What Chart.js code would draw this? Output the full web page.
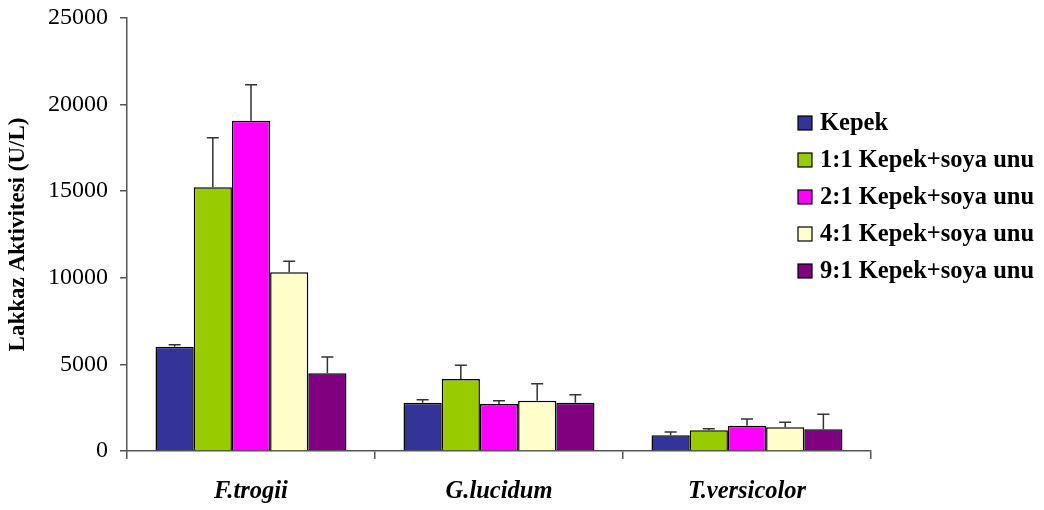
<!DOCTYPE html>
<html>
<head>
<meta charset="utf-8">
<script src="https://cdn.jsdelivr.net/npm/chart.js@4/dist/chart.umd.min.js"></script>
<style>
  body { margin: 0; background: #fff; }
  #caixa { width: 1044px; height: 510px; }
</style>
</head>
<body>
<div id="caixa"><canvas id="grafico" width="1044" height="510"></canvas></div>
<script>
var fonteSerif = "'Liberation Serif', 'Times New Roman', serif";

var categorias = ['F.trogii', 'G.lucidum', 'T.versicolor'];
var yMarcas = [0, 5000, 10000, 15000, 20000, 25000];

var nomes = ['Kepek', '1:1 Kepek+soya unu', '2:1 Kepek+soya unu', '4:1 Kepek+soya unu', '9:1 Kepek+soya unu'];
var cores = ['#333399', '#99cc00', '#ff00ff', '#ffffcc', '#800080'];

// lakkaz aktivitesi (U/L) e desvio (so pra cima)
var kepek = [6020, 2790, 905];
var kepekErro = [110, 175, 190];
var oran11 = [15225, 4155, 1195];
var oran11Erro = [2860, 790, 95];
var oran21 = [19070, 2715, 1460];
var oran21Erro = [2080, 190, 385];
var oran41 = [10320, 2905, 1370];
var oran41Erro = [635, 980, 290];
var oran91 = [4485, 2790, 1255];
var oran91Erro = [940, 460, 865];

var valores = [kepek, oran11, oran21, oran41, oran91];
var erros = [kepekErro, oran11Erro, oran21Erro, oran41Erro, oran91Erro];

var conjuntos = [];
for (var i = 0; i < nomes.length; i++) {
    conjuntos.push({
        label: nomes[i],
        data: valores[i],
        erro: erros[i],
        backgroundColor: cores[i],
        borderColor: '#000',
        borderWidth: 1.5,
        categoryPercentage: 0.77,
        barPercentage: 1
    });
}

// barras de erro
var barrasErro = {
    id: 'barrasErro',
    afterDatasetsDraw: function (chart) {
        var ctx = chart.ctx;
        var eixoY = chart.scales.y;
        ctx.save();
        ctx.strokeStyle = '#333';
        ctx.lineWidth = 1.5;
        chart.data.datasets.forEach(function (ds, i) {
            chart.getDatasetMeta(i).data.forEach(function (barra, j) {
                var topo = eixoY.getPixelForValue(ds.data[j] + ds.erro[j]);
                ctx.beginPath();
                ctx.moveTo(barra.x, barra.y);
                ctx.lineTo(barra.x, topo);
                ctx.moveTo(barra.x - 6, topo);
                ctx.lineTo(barra.x + 6, topo);
                ctx.stroke();
            });
        });
        ctx.restore();
    }
};

// legenda do lado direito
var legenda = {
    id: 'legenda',
    afterDraw: function (chart) {
        var ctx = chart.ctx;
        ctx.save();
        ctx.font = 'bold 24.5px ' + fonteSerif;
        ctx.textBaseline = 'middle';
        chart.data.datasets.forEach(function (ds, i) {
            var y = 123 + i * 37;
            ctx.fillStyle = ds.backgroundColor;
            ctx.fillRect(798, y - 7, 14, 14);
            ctx.strokeStyle = '#000';
            ctx.lineWidth = 1.2;
            ctx.strokeRect(798, y - 7, 14, 14);
            ctx.fillStyle = '#000';
            ctx.fillText(ds.label, 820, y + 1);
        });
        ctx.restore();
    }
};

var grafico = new Chart(document.getElementById('grafico'), {
    type: 'bar',
    data: { labels: categorias, datasets: conjuntos },
    plugins: [barrasErro, legenda],
    options: {
        responsive: false,
        animation: false,
        devicePixelRatio: 1,
        layout: { padding: { top: 18, right: 173, left: 0, bottom: 0 } },
        plugins: {
            legend: { display: false },
            tooltip: { enabled: false }
        },
        scales: {
            x: {
                grid: { display: true, offset: true, drawOnChartArea: false, drawTicks: true, tickLength: 8, color: '#555', lineWidth: 1.5 },
                border: { display: true, color: '#555', width: 1.5 },
                ticks: { color: '#000', padding: 18, font: { family: fonteSerif, size: 24.5, weight: 'bold', style: 'italic' } },
                afterFit: function (scale) { scale.height = 59; }
            },
            y: {
                min: 0,
                max: 25000,
                afterBuildTicks: function (scale) {
                    scale.ticks = yMarcas.map(function (v) { return { value: v }; });
                },
                grid: { display: true, drawOnChartArea: false, drawTicks: true, tickLength: 7, color: '#555', lineWidth: 1.5 },
                border: { display: true, color: '#555', width: 1.5 },
                ticks: {
                    color: '#000',
                    padding: 12,
                    font: { family: fonteSerif, size: 24, lineHeight: 0.5 },
                    callback: function (valor) { return String(valor); }
                },
                title: {
                    display: true,
                    text: 'Lakkaz Aktivitesi (U/L)',
                    color: '#000',
                    padding: { top: 4, bottom: 0 },
                    font: { family: fonteSerif, size: 23, weight: 'bold' }
                },
                afterFit: function (scale) { scale.width = 127; }
            }
        }
    }
});
</script>
</body>
</html>
